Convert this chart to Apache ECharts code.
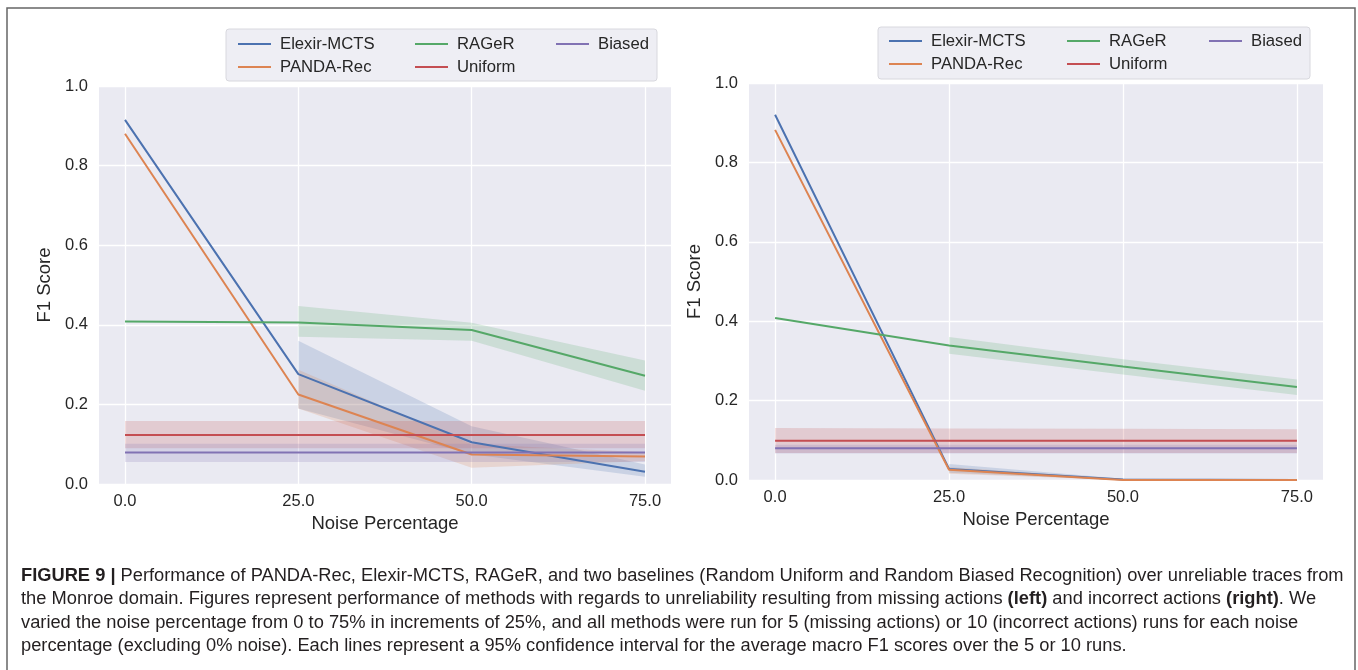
<!DOCTYPE html>
<html>
<head>
<meta charset="utf-8">
<script src="https://cdn.jsdelivr.net/npm/echarts@6/dist/echarts.min.js"></script>
<style>
	body { margin: 0; background: #fff; }
	#chart { width: 1358px; height: 670px; }
</style>
</head>
<body>
	<div id="chart"></div>
	<script>
		// noise percentage (x axis)
		var noise = [0, 25, 50, 75];
		var xTicks = [0, 25, 50, 75];
		var names = ['Elexir-MCTS', 'PANDA-Rec', 'RAGeR', 'Uniform', 'Biased'];
		var colors = ['#4C72B0', '#DD8452', '#55A868', '#C44E52', '#8172B3'];

		// left: missing actions
		var missElexir = [0.915, 0.276, 0.105, 0.031];
		var missElexirLo = [null, 0.19, 0.075, 0.018];
		var missElexirHi = [null, 0.360, 0.145, 0.049];
		var missPanda = [0.880, 0.225, 0.074, 0.069];
		var missPandaLo = [null, 0.190, 0.041, 0.058];
		var missPandaHi = [null, 0.287, 0.100, 0.080];
		var missRager = [0.408, 0.406, 0.387, 0.272];
		var missRagerLo = [null, 0.370, 0.360, 0.234];
		var missRagerHi = [null, 0.447, 0.405, 0.310];
		var missUniform = [0.123, 0.123, 0.123, 0.123];
		var missUniformLo = [0.090, 0.090, 0.090, 0.090];
		var missUniformHi = [0.158, 0.158, 0.158, 0.158];
		var missBiased = [0.079, 0.079, 0.079, 0.079];
		var missBiasedLo = [0.055, 0.055, 0.055, 0.055];
		var missBiasedHi = [0.101, 0.101, 0.101, 0.101];

		// right: incorrect actions
		var incElexir = [0.920, 0.028, 0.001, 0.000];
		var incElexirLo = [null, 0.018, 0.000, 0.000];
		var incElexirHi = [null, 0.040, 0.003, 0.001];
		var incPanda = [0.882, 0.026, 0.000, 0.000];
		var incPandaLo = [null, 0.016, 0.000, 0.000];
		var incPandaHi = [null, 0.033, 0.002, 0.001];
		var incRager = [0.408, 0.339, 0.286, 0.234];
		var incRagerLo = [null, 0.318, 0.266, 0.214];
		var incRagerHi = [null, 0.360, 0.304, 0.253];
		var incUniform = [0.099, 0.099, 0.099, 0.099];
		var incUniformLo = [0.068, 0.068, 0.068, 0.068];
		var incUniformHi = [0.131, 0.130, 0.129, 0.128];
		var incBiased = [0.080, 0.080, 0.080, 0.080];
		var incBiasedLo = [0.067, 0.067, 0.067, 0.067];
		var incBiasedHi = [0.089, 0.089, 0.089, 0.089];

		var panels = [
			{
				mean: [missElexir, missPanda, missRager, missUniform, missBiased],
				lo: [missElexirLo, missPandaLo, missRagerLo, missUniformLo, missBiasedLo],
				hi: [missElexirHi, missPandaHi, missRagerHi, missUniformHi, missBiasedHi]
			},
			{
				mean: [incElexir, incPanda, incRager, incUniform, incBiased],
				lo: [incElexirLo, incPandaLo, incRagerLo, incUniformLo, incBiasedLo],
				hi: [incElexirHi, incPandaHi, incRagerHi, incUniformHi, incBiasedHi]
			}
		];

		var font = 'Liberation Sans, Arial, sans-serif';
		var txt = '#262626';

		function pts(vals) {
			var out = [];
			noise.forEach(function (x, i) {
				if (vals[i] != null) out.push([x, vals[i]]);
			});
			return out;
		}
		// rows of [x, lo, hi] for the confidence band
		function band(lo, hi) {
			var out = [];
			noise.forEach(function (x, i) {
				if (lo[i] != null && hi[i] != null) out.push([x, lo[i], hi[i]]);
			});
			return out;
		}
		// the whole band is drawn as one polygon by the first item
		function bandRender(rows, color) {
			return function (params, api) {
				if (params.dataIndex !== 0) return null;
				var top = rows.map(function (r) { return api.coord([r[0], r[2]]); });
				var bottom = rows.map(function (r) { return api.coord([r[0], r[1]]); }).reverse();
				return {
					type: 'polygon',
					shape: { points: top.concat(bottom) },
					style: { fill: color, opacity: 0.2 }
				};
			};
		}

		var series = [];
		panels.forEach(function (p, g) {
			names.forEach(function (n, k) {
				var rows = band(p.lo[k], p.hi[k]);
				series.push({
					name: 'ci' + g + k, type: 'custom', xAxisIndex: g, yAxisIndex: g,
					data: rows, encode: { x: 0, y: [1, 2] }, silent: true, z: 1,
					renderItem: bandRender(rows, colors[k])
				});
			});
			names.forEach(function (n, k) {
				series.push({
					name: n, type: 'line', xAxisIndex: g, yAxisIndex: g,
					data: pts(p.mean[k]), symbol: 'none', z: 3,
					lineStyle: { color: colors[k], width: 2 },
					itemStyle: { color: colors[k] }
				});
			});
		});

		var grids = [
			{ left: 99, top: 86, width: 572, height: 398 },
			{ left: 749, top: 83, width: 574, height: 397 }
		];

		function xAxis(g) {
			return {
				type: 'value', gridIndex: g, min: -3.75, max: 78.75,
				axisLine: { show: false }, axisTick: { show: false, customValues: xTicks },
				axisLabel: { customValues: xTicks, formatter: function (v) { return v.toFixed(1); },
					fontSize: 16.5, color: txt, fontFamily: font, margin: 9 },
				splitLine: { show: true, customValues: xTicks, lineStyle: { color: '#fff', width: 1.3 } },
				name: 'Noise Percentage', nameLocation: 'middle', nameGap: 27,
				nameTextStyle: { fontSize: 18.5, color: txt, fontFamily: font }
			};
		}
		function yAxis(g) {
			return {
				type: 'value', gridIndex: g, min: 0, max: 1, interval: 0.2,
				axisLine: { show: false }, axisTick: { show: false },
				axisLabel: { formatter: function (v) { return v.toFixed(1); },
					fontSize: 16.5, color: txt, fontFamily: font, margin: 11 },
				splitLine: { lineStyle: { color: '#fff', width: 1.3 } },
				name: 'F1 Score', nameLocation: 'middle', nameGap: 45,
				nameTextStyle: { fontSize: 18.5, color: txt, fontFamily: font }
			};
		}

		// legend columns for each panel
		var legendCols = [['Elexir-MCTS', 'PANDA-Rec'], ['RAGeR', 'Uniform'], ['Biased']];
		var legendLeft = [[233, 410, 551], [884, 1062, 1204]];
		var legendTop = [30, 27];
		var legends = [];
		legendLeft.forEach(function (xs, g) {
			xs.forEach(function (x, c) {
				legends.push({
					data: legendCols[c], orient: 'vertical', left: x, top: legendTop[g],
					itemWidth: 33, itemHeight: 2, icon: 'rect', itemGap: 5,
					selectedMode: false,
					textStyle: { fontSize: 16.7, color: txt, fontFamily: font, lineHeight: 18,
						padding: [0, 0, 0, 4] }
				});
			});
		});

		var capSize = 18.3;
		var capFill = '#231F20';
		var capLines = [
			'{b|FIGURE 9 |} Performance of PANDA-Rec, Elexir-MCTS, RAGeR, and two baselines (Random Uniform and Random Biased Recognition) over unreliable traces from',
			'the Monroe domain. Figures represent performance of methods with regards to unreliability resulting from missing actions {b|(left)} and incorrect actions {b|(right)}. We',
			'varied the noise percentage from 0 to 75% in increments of 25%, and all methods were run for 5 (missing actions) or 10 (incorrect actions) runs for each noise',
			'percentage (excluding 0% noise). Each lines represent a 95% confidence interval for the average macro F1 scores over the 5 or 10 runs.'
		];
		var capY = [577, 600, 624, 647];

		var graphic = [
			{ type: 'rect', shape: { x: 7, y: 8, width: 1348, height: 700 }, z: -10,
				style: { fill: 'none', stroke: '#666', lineWidth: 1.5 } },
			{ type: 'rect', shape: { x: 226, y: 29, width: 431, height: 52, r: 3 }, z: -5,
				style: { fill: '#EEEEF4', stroke: '#D8D8DE', lineWidth: 1 } },
			{ type: 'rect', shape: { x: 878, y: 27, width: 432, height: 52, r: 3 }, z: -5,
				style: { fill: '#EEEEF4', stroke: '#D8D8DE', lineWidth: 1 } }
		];
		capLines.forEach(function (t, i) {
			graphic.push({
				type: 'text', left: 21, top: capY[i] - 10,
				style: {
					text: t, fontSize: capSize, fontFamily: font, fill: capFill,
					rich: { b: { fontWeight: 'bold', fontSize: capSize, fontFamily: font, fill: capFill } }
				}
			});
		});

		var myChart = echarts.init(document.getElementById('chart'));
		var option = {
			backgroundColor: '#fff',
			animation: false,
			grid: grids.map(function (gr) {
				return Object.assign({ show: true, backgroundColor: '#EAEAF2', borderWidth: 0 }, gr);
			}),
			xAxis: [xAxis(0), xAxis(1)],
			yAxis: [yAxis(0), yAxis(1)],
			legend: legends,
			graphic: graphic,
			series: series
		};
		myChart.setOption(option);
	</script>
</body>
</html>
